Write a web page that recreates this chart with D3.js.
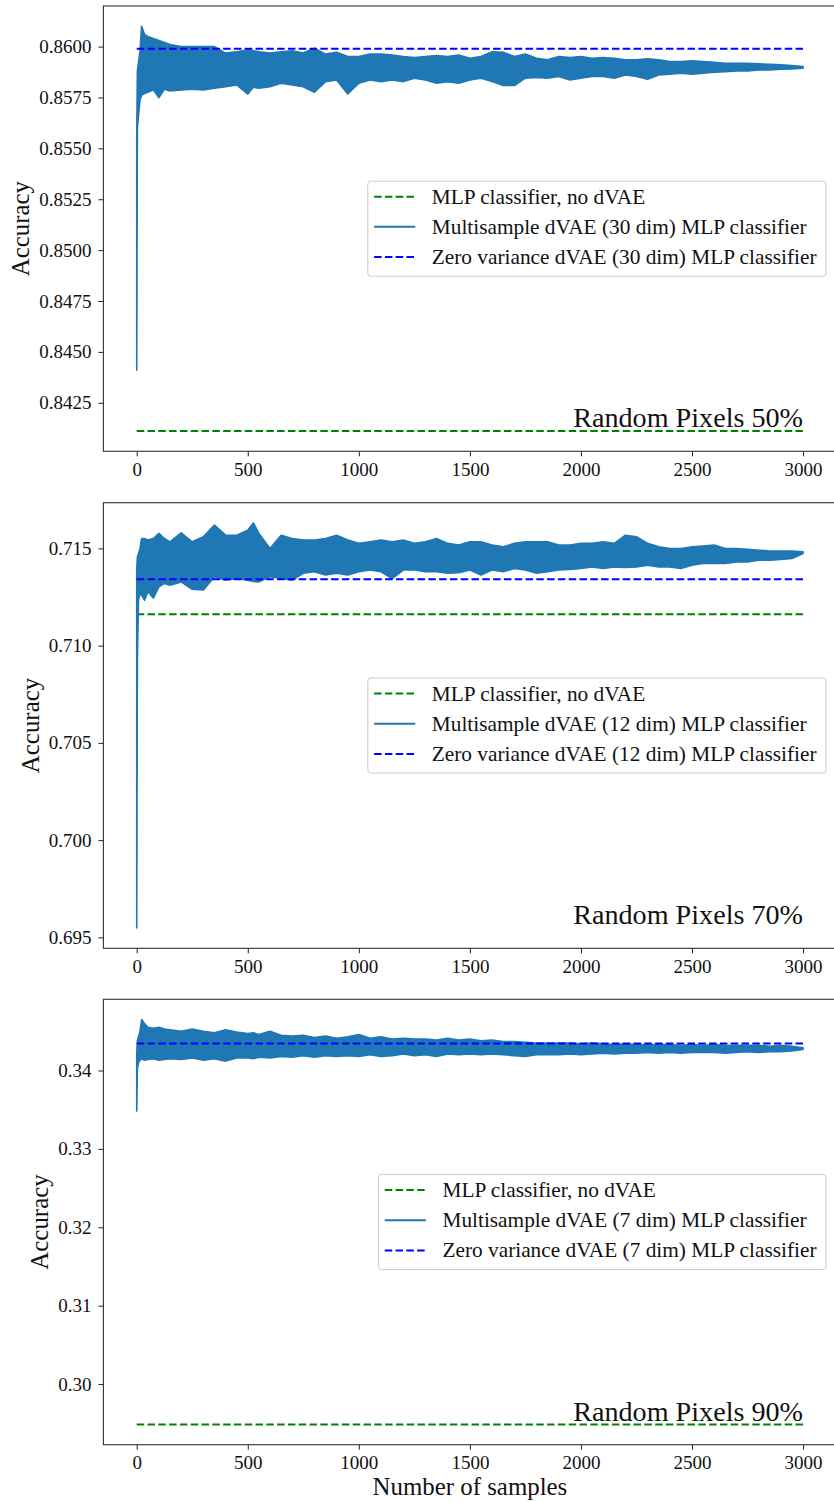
<!DOCTYPE html>
<html>
<head>
<meta charset="utf-8">
<script src="https://cdn.jsdelivr.net/npm/d3@7"></script>
<style>
  html, body { margin: 0; padding: 0; background: #fff; }
  svg { display: block; }
</style>
</head>
<body>
<svg id="chart" width="834" height="1502"></svg>
<script>
// ---------------- data ----------------
const sampleX = [0, 3, 8, 15, 22, 35, 50, 75, 100, 125, 150, 200, 250, 300, 350, 400, 450, 500, 525, 550,
  600, 650, 700, 750, 800, 850, 900, 950, 1000, 1050, 1100, 1150, 1200, 1250, 1300, 1350, 1400, 1450,
  1500, 1550, 1600, 1650, 1700, 1750, 1800, 1850, 1900, 1950, 2000, 2050, 2100, 2150, 2200, 2250,
  2300, 2350, 2400, 2450, 2500, 2550, 2600, 2650, 2700, 2750, 2800, 2850, 2900, 2950, 3000];

// Random pixels 50% : upper / lower extent of the multisample curve
const hi50 = [0.8555, 0.8588, 0.8592, 0.8598, 0.8610, 0.8606, 0.8605, 0.8604, 0.8603, 0.8602, 0.8601, 0.8600, 0.8600, 0.8600, 0.8600, 0.85968, 0.85975, 0.85984, 0.85980, 0.85975,
  0.85968, 0.85975, 0.85979, 0.85968, 0.85992, 0.85963, 0.85972, 0.85951, 0.85951, 0.85963, 0.85963, 0.85959, 0.85951, 0.85946, 0.85951, 0.85956, 0.85951, 0.85959,
  0.85943, 0.85951, 0.85975, 0.85972, 0.85951, 0.85963, 0.85943, 0.85935, 0.85951, 0.85946, 0.85951, 0.85943, 0.85946, 0.85943, 0.85935, 0.85935,
  0.85940, 0.85935, 0.85926, 0.85926, 0.85930, 0.85926, 0.85923, 0.85918, 0.85918, 0.85918, 0.85915, 0.85913, 0.85910, 0.85907, 0.85902];
const lo50 = [0.8441, 0.8560, 0.8566, 0.8574, 0.8576, 0.8577, 0.85776, 0.85788, 0.85749, 0.85790, 0.85782, 0.85787, 0.85791, 0.85787, 0.85796, 0.85803, 0.85812, 0.85767, 0.85800, 0.85796,
  0.85803, 0.85820, 0.85812, 0.85803, 0.85776, 0.85828, 0.85836, 0.85767, 0.85820, 0.85836, 0.85828, 0.85836, 0.85828, 0.85845, 0.85836, 0.85820, 0.85828, 0.85820,
  0.85836, 0.85845, 0.85828, 0.85809, 0.85809, 0.85845, 0.85848, 0.85845, 0.85853, 0.85836, 0.85845, 0.85853, 0.85853, 0.85845, 0.85861, 0.85853,
  0.85840, 0.85861, 0.85864, 0.85869, 0.85864, 0.85869, 0.85874, 0.85877, 0.85880, 0.85880, 0.85885, 0.85885, 0.85889, 0.85890, 0.85894];

// Random pixels 70%
const hi70 = [0.7139, 0.71457, 0.71474, 0.7150, 0.71551, 0.71551, 0.71543, 0.71551, 0.71577, 0.71551, 0.71534, 0.7158, 0.71534, 0.7156, 0.7162, 0.71568, 0.71568, 0.71594, 0.71631, 0.71577,
  0.7150, 0.71568, 0.71551, 0.71543, 0.71543, 0.71551, 0.71568, 0.71543, 0.71526, 0.71534, 0.71543, 0.71534, 0.71543, 0.71526, 0.71534, 0.71551, 0.71526, 0.71517,
  0.71534, 0.71534, 0.71517, 0.71508, 0.71526, 0.71534, 0.71534, 0.71534, 0.71517, 0.71517, 0.71526, 0.71526, 0.71534, 0.71526, 0.71568, 0.7156,
  0.71526, 0.71508, 0.7150, 0.7150, 0.71508, 0.71512, 0.71517, 0.7150, 0.7150, 0.71495, 0.71491, 0.71487, 0.71487, 0.71487, 0.71483];
const lo70 = [0.69548, 0.7093, 0.71234, 0.71269, 0.7126, 0.71234, 0.71277, 0.71245, 0.71303, 0.7132, 0.71311, 0.71328, 0.7129, 0.71286, 0.71354, 0.71337, 0.71345, 0.71337, 0.71330, 0.71328,
  0.71354, 0.71345, 0.71337, 0.71372, 0.7138, 0.71363, 0.71372, 0.71363, 0.7138, 0.71389, 0.7138, 0.71345, 0.71389, 0.71389, 0.7138, 0.7138, 0.71372, 0.71375,
  0.71389, 0.71363, 0.71389, 0.7138, 0.71397, 0.71389, 0.71372, 0.7138, 0.71389, 0.71392, 0.71397, 0.71405, 0.71397, 0.71405, 0.71402, 0.71405,
  0.71414, 0.71405, 0.71405, 0.71397, 0.71414, 0.71423, 0.71423, 0.71423, 0.71431, 0.71431, 0.7144, 0.7144, 0.71443, 0.71448, 0.71474];

// Random pixels 90%
const hi90 = [0.3422, 0.3438, 0.3443, 0.3450, 0.3465, 0.3460, 0.3455, 0.3454, 0.3455, 0.3453, 0.3452, 0.3450, 0.3453, 0.3450, 0.3448, 0.3452, 0.3449, 0.3447, 0.3448, 0.3446,
  0.3450, 0.3445, 0.3444, 0.3445, 0.3442, 0.3444, 0.3441, 0.3443, 0.3446, 0.3441, 0.3443, 0.3440, 0.3441, 0.3440, 0.3440, 0.3439, 0.3441, 0.3439,
  0.3440, 0.3438, 0.3439, 0.3437, 0.3437, 0.3436, 0.3435, 0.3435, 0.3435, 0.3435, 0.3434, 0.3435, 0.3434, 0.3433, 0.3434, 0.3433,
  0.3433, 0.3433, 0.3433, 0.3432, 0.3433, 0.3432, 0.3433, 0.3432, 0.3432, 0.3432, 0.3432, 0.3431, 0.3432, 0.3431, 0.3429];
const lo90 = [0.33482, 0.3402, 0.3410, 0.3413, 0.3415, 0.3413, 0.3414, 0.3415, 0.3413, 0.3414, 0.3415, 0.3414, 0.3416, 0.3413, 0.3415, 0.3412, 0.3416, 0.3416, 0.3415, 0.3417,
  0.3416, 0.3418, 0.3417, 0.3419, 0.3417, 0.3419, 0.3418, 0.3419, 0.3418, 0.3420, 0.3418, 0.3419, 0.3421, 0.3419, 0.3420, 0.3418, 0.3421, 0.3420,
  0.3421, 0.3420, 0.3421, 0.3420, 0.3419, 0.3418, 0.3420, 0.3420, 0.3420, 0.3421, 0.3420, 0.3421, 0.3422, 0.3421, 0.3422, 0.3422,
  0.3423, 0.3422, 0.3423, 0.3422, 0.3423, 0.3423, 0.3423, 0.3422, 0.3423, 0.3424, 0.3423, 0.3424, 0.3424, 0.3425, 0.3427];

const noDvaeAcc = [0.84111, 0.71161, 0.29485];        // MLP classifier, no dVAE (horizontal)
const zeroVarAcc = [0.85989, 0.71341, 0.34344];       // Zero variance dVAE (horizontal)
const latentDims = [30, 12, 7];
const panelTitles = ["Random Pixels 50%", "Random Pixels 70%", "Random Pixels 90%"];
const hLineX = [0, 3000];
const xTicks = [0, 500, 1000, 1500, 2000, 2500, 3000];
const yTicks50 = [0.8425, 0.8450, 0.8475, 0.8500, 0.8525, 0.8550, 0.8575, 0.8600];
const yTicks70 = [0.695, 0.700, 0.705, 0.710, 0.715];
const yTicks90 = [0.30, 0.31, 0.32, 0.33, 0.34];
const yFormats = [".4f", ".3f", ".2f"];
const xLabel = "Number of samples";
const yLabel = "Accuracy";

// ---------------- layout ----------------
const FONT = "'Liberation Serif', 'DejaVu Serif', serif";
const svg = d3.select("#chart");
const left = 103.4, right = 836.4;
const panels = [
  {top: 6, bottom: 451.3},
  {top: 502.7, bottom: 948.3},
  {top: 999.3, bottom: 1444.7}
];
const his = [hi50, hi70, hi90], los = [lo50, lo70, lo90];
const yTicksAll = [yTicks50, yTicks70, yTicks90];
const C_MULTI = "#1f77b4", C_GREEN = "#008000", C_BLUE = "#0000ff";

// measure helper for font sizing
function measure(text, size) {
  const t = svg.append("text").attr("font-family", FONT).attr("font-size", size).text(text);
  const w = t.node().getComputedTextLength();
  t.remove();
  return w;
}
const legendFS = 18 * 385 / measure("Zero variance dVAE (30 dim) MLP classifier", 18);
const titleFS = 26 * 230 / measure("Random Pixels 50%", 26);
const labelFS = 22 * 195 / measure(xLabel, 22);
const tickFS = 19;

const xPad = (hLineX[1] - hLineX[0]) * 0.05;
const x = d3.scaleLinear().domain([hLineX[0] - xPad, hLineX[1] + xPad]).range([left, right]);

panels.forEach((p, i) => {
  const hi = his[i], lo = los[i];
  const pts = sampleX.map((s, k) => ({s, hi: hi[k], lo: lo[k]}));
  const all = hi.concat(lo, [noDvaeAcc[i], zeroVarAcc[i]]);
  const [mn, mx] = d3.extent(all);
  const pad = (mx - mn) * 0.05;
  const y = d3.scaleLinear().domain([mn - pad, mx + pad]).range([p.bottom, p.top]);

  const g = svg.append("g");
  const clipId = "clip" + i;
  svg.append("clipPath").attr("id", clipId).append("rect")
    .attr("x", left).attr("y", p.top).attr("width", right - left).attr("height", p.bottom - p.top);
  const plot = g.append("g").attr("clip-path", `url(#${clipId})`);

  const hline = d3.line().x(d => x(d[0])).y(d => y(d[1]));
  // green: no dVAE
  plot.append("path").datum(hLineX.map(v => [v, noDvaeAcc[i]]))
    .attr("d", hline).attr("fill", "none").attr("stroke", C_GREEN)
    .attr("stroke-width", 2).attr("stroke-dasharray", "7.5,3.3");
  // multisample band
  const area = d3.area().x(d => x(d.s)).y0(d => y(d.lo)).y1(d => y(d.hi));
  plot.append("path").datum(pts).attr("d", area)
    .attr("fill", C_MULTI).attr("stroke", C_MULTI).attr("stroke-width", 1.6)
    .attr("stroke-linejoin", "round");
  // blue: zero variance
  plot.append("path").datum(hLineX.map(v => [v, zeroVarAcc[i]]))
    .attr("d", hline).attr("fill", "none").attr("stroke", C_BLUE)
    .attr("stroke-width", 2).attr("stroke-dasharray", "7.5,3.3");

  // panel title
  g.append("text").attr("x", x(3000)).attr("y", p.bottom - 24)
    .attr("text-anchor", "end").attr("font-family", FONT).attr("font-size", titleFS)
    .attr("fill", "#111").text(panelTitles[i]);

  // axes
  const xAxis = d3.axisBottom(x).tickValues(xTicks).tickSize(5).tickPadding(6).tickFormat(d3.format("d"));
  const yAxis = d3.axisLeft(y).tickValues(yTicksAll[i]).tickSize(5).tickPadding(7).tickFormat(d3.format(yFormats[i]));
  const gx = g.append("g").attr("transform", `translate(0,${p.bottom})`).call(xAxis);
  const gy = g.append("g").attr("transform", `translate(${left},0)`).call(yAxis);
  [gx, gy].forEach(a => {
    a.select(".domain").remove();
    a.selectAll(".tick line").attr("stroke", "#222").attr("stroke-width", 1);
    a.selectAll(".tick text").attr("font-family", FONT).attr("font-size", tickFS).attr("fill", "#111");
  });

  // frame
  g.append("rect").attr("x", left).attr("y", p.top)
    .attr("width", right - left).attr("height", p.bottom - p.top)
    .attr("fill", "none").attr("stroke", "#333").attr("stroke-width", 1.1);

  // y label
  let minX = Infinity;
  gy.selectAll(".tick text").each(function() { minX = Math.min(minX, this.getBBox().x + left); });
  const yc = (p.top + p.bottom) / 2;
  g.append("text").attr("transform", `translate(${minX - 10},${yc}) rotate(-90)`)
    .attr("text-anchor", "middle").attr("font-family", FONT).attr("font-size", labelFS)
    .attr("fill", "#111").text(yLabel);

  // legend
  const labels = ["MLP classifier, no dVAE",
    `Multisample dVAE (${latentDims[i]} dim) MLP classifier`,
    `Zero variance dVAE (${latentDims[i]} dim) MLP classifier`];
  const styles = [{c: C_GREEN, dash: "7.5,3.3"}, {c: C_MULTI, dash: null}, {c: C_BLUE, dash: "7.5,3.3"}];
  const maxW = d3.max(labels, l => measure(l, legendFS));
  const bw = 64 + maxW + 9.5, bh = 95;
  const bx = right - 10.4 - bw, by = yc - bh / 2;
  const lg = g.append("g");
  lg.append("rect").attr("x", bx).attr("y", by).attr("width", bw).attr("height", bh)
    .attr("rx", 3).attr("fill", "#fff").attr("fill-opacity", 0.8)
    .attr("stroke", "#cccccc").attr("stroke-width", 1);
  labels.forEach((l, k) => {
    const ry = by + 15.5 + k * 30.2;
    lg.append("line").attr("x1", bx + 6.3).attr("x2", bx + 47.5).attr("y1", ry).attr("y2", ry)
      .attr("stroke", styles[k].c).attr("stroke-width", 2)
      .attr("stroke-dasharray", styles[k].dash);
    lg.append("text").attr("x", bx + 64).attr("y", ry).attr("dy", "0.33em")
      .attr("font-family", FONT).attr("font-size", legendFS).attr("fill", "#111").text(l);
  });
});

// x label
svg.append("text").attr("x", (left + right) / 2).attr("y", 1495)
  .attr("text-anchor", "middle").attr("font-family", FONT).attr("font-size", labelFS)
  .attr("fill", "#111").text(xLabel);
</script>
</body>
</html>
